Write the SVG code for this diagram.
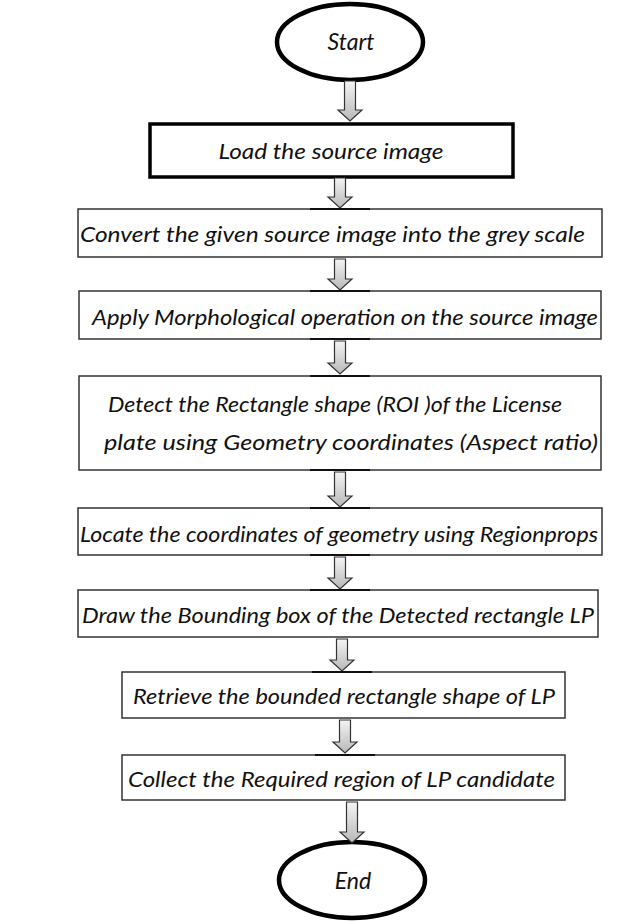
<svg xmlns="http://www.w3.org/2000/svg" width="643" height="922" viewBox="0 0 643 922">
<style>
text{font-family:Lato,"Open Sans","Liberation Sans",sans-serif;font-style:italic;font-size:21px;fill:#111}
.lg{font-size:23px}
.box{fill:#fff;stroke:#333;stroke-width:1.5}
.thick{fill:#fff;stroke:#000;stroke-width:3.5}
.term{fill:#fff;stroke:#000;stroke-width:4.5}
.arr{fill:url(#g);stroke:#333;stroke-width:1.2}
.tick{stroke:#111;stroke-width:2}
</style>
<defs>
<linearGradient id="g" x1="0" y1="0" x2="0" y2="1">
<stop offset="0" stop-color="#f4f4f4"/>
<stop offset="1" stop-color="#b8b8b8"/>
</linearGradient>
</defs>
<rect width="643" height="922" fill="#fff"/>
<g id="start"><ellipse class="term" cx="350" cy="42" rx="73" ry="38"/><text class="lg" x="351" y="50" text-anchor="middle">Start</text></g>
<g id="load"><rect class="thick" x="150" y="124" width="363" height="53"/><text x="331" y="159" text-anchor="middle" textLength="225" lengthAdjust="spacingAndGlyphs">Load the source image</text></g>
<g id="convert"><rect class="box" x="78" y="209" width="524" height="48"/><text x="80" y="242" textLength="505" lengthAdjust="spacingAndGlyphs">Convert the given source image into the grey scale</text></g>
<g id="apply"><rect class="box" x="79" y="291" width="522" height="48"/><text x="92" y="325" textLength="506" lengthAdjust="spacingAndGlyphs">Apply Morphological operation on the source image</text></g>
<g id="detect"><rect class="box" x="79" y="376" width="522" height="94"/><text x="108" y="412" textLength="454" lengthAdjust="spacingAndGlyphs">Detect the Rectangle shape (ROI )of the License</text><text x="104" y="450" textLength="494" lengthAdjust="spacingAndGlyphs">plate using Geometry coordinates (Aspect ratio)</text></g>
<g id="locate"><rect class="box" x="78" y="508" width="524" height="47"/><text x="80" y="542" textLength="518" lengthAdjust="spacingAndGlyphs">Locate the coordinates of geometry using Regionprops</text></g>
<g id="draw"><rect class="box" x="78" y="590" width="520" height="47"/><text x="82" y="623" textLength="512" lengthAdjust="spacingAndGlyphs">Draw the Bounding box of the Detected rectangle LP</text></g>
<g id="retrieve"><rect class="box" x="122" y="672" width="443" height="46"/><text x="133" y="704" textLength="422" lengthAdjust="spacingAndGlyphs">Retrieve the bounded rectangle shape of LP</text></g>
<g id="collect"><rect class="box" x="122" y="755" width="443" height="45"/><text x="128" y="787" textLength="427" lengthAdjust="spacingAndGlyphs">Collect the Required region of LP candidate</text></g>
<g id="end"><ellipse class="term" cx="352" cy="880" rx="73" ry="38"/><text class="lg" x="353" y="889" text-anchor="middle">End</text></g>
<g id="connectors">
<path class="arr" d="M344.5,81 H355.5 V110 H362 L350,121 L338,110 H344.5 Z"/>
<path class="arr" d="M334.5,178 H345.5 V197 H352 L340,208 L328,197 H334.5 Z"/>
<path class="arr" d="M334.5,259 H345.5 V279 H352 L340,290 L328,279 H334.5 Z"/>
<path class="arr" d="M334.5,341 H345.5 V363 H352 L340,374 L328,363 H334.5 Z"/>
<path class="arr" d="M334.5,472 H345.5 V496 H352 L340,507 L328,496 H334.5 Z"/>
<path class="arr" d="M334.5,557 H345.5 V578 H352 L340,589 L328,578 H334.5 Z"/>
<path class="arr" d="M336.5,639 H347.5 V660 H354 L342,671 L330,660 H336.5 Z"/>
<path class="arr" d="M339.5,720 H350.5 V742 H357 L345,753 L333,742 H339.5 Z"/>
<path class="arr" d="M346.5,802 H357.5 V832 H364 L352,843 L340,832 H346.5 Z"/>
<path class="tick" d="M310,209 H370 M310,291 H370 M310,339 H370 M310,376 H370 M310,470 H370 M310,508 H370 M310,555 H370 M310,590 H370 M312,672 H372 M315,755 H375"/>
</g>
</svg>
